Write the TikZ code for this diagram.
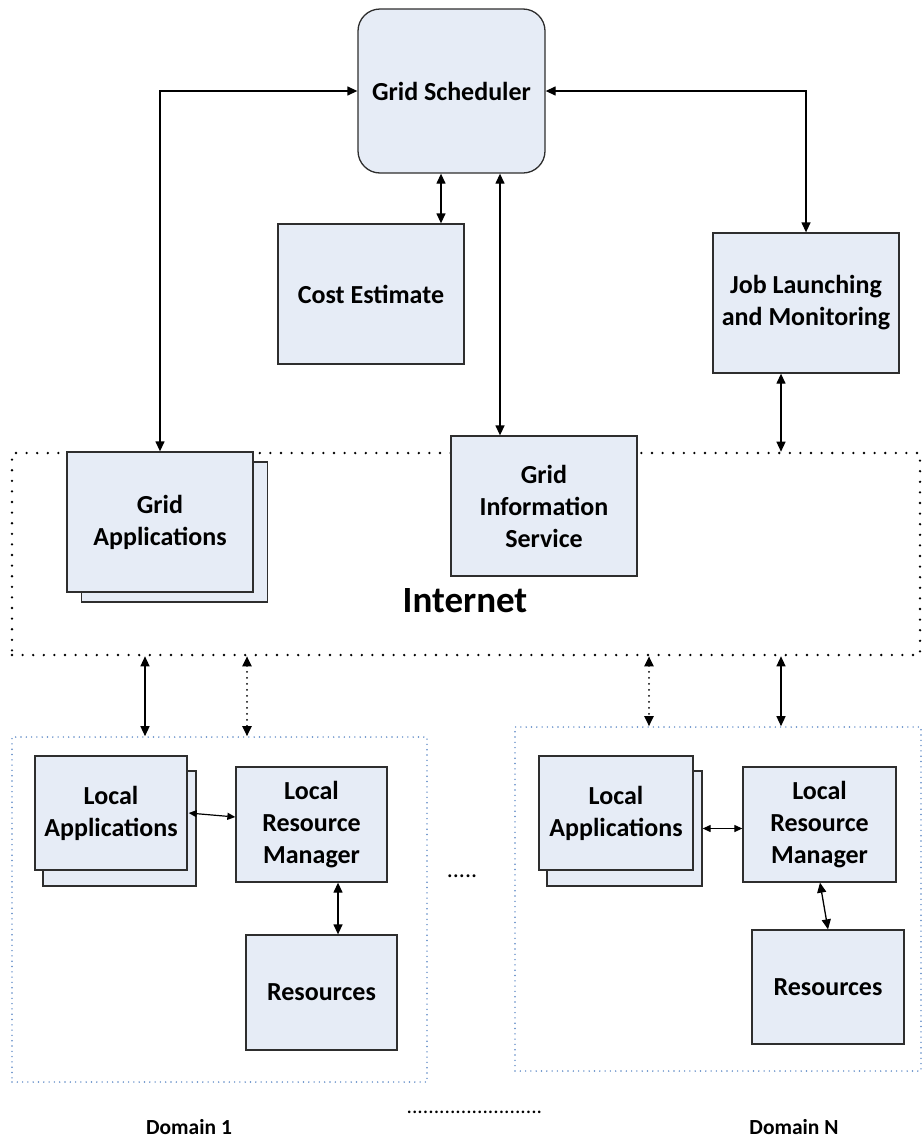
\documentclass[tikz,border=0pt]{standalone}
\usepackage{fontspec}
\setmainfont{Carlito}
\usetikzlibrary{arrows.meta,calc}
\definecolor{boxfill}{HTML}{E6ECF6}
\definecolor{boxline}{HTML}{2E2E2E}
\definecolor{domblue}{HTML}{5B87C5}
\begin{document}
\begin{tikzpicture}[x=1pt,y=-1pt,
  box/.style={draw=boxline, line width=1.3pt, fill=boxfill, align=center,
    inner sep=0pt, font=\fontsize{26}{32}\selectfont\bfseries},
  bigbox/.style={box, minimum width=186pt, minimum height=140pt},
  smallbox/.style={box, minimum width=152pt, minimum height=115pt},
  inetbox/.style={draw=black, line width=2.6pt, line cap=round,
    dash pattern=on 0pt off 10.6pt, minimum width=908pt, minimum height=202pt, inner sep=0pt},
  domainbox/.style={draw=domblue, line width=1.6pt, line cap=round,
    dash pattern=on 0pt off 5.3pt, inner sep=0pt},
  arr/.style={line width=1.3pt,
    {Triangle[length=10pt,width=9pt]}-{Triangle[length=10pt,width=9pt]}},
  dotarr/.style={arr, line width=2pt, line cap=round, dash pattern=on 0pt off 6pt},
  sarr/.style={line width=1.2pt,
    {Triangle[length=8pt,width=7pt]}-{Triangle[length=8pt,width=7pt]}},
  label/.style={inner sep=0pt, font=\fontsize{21.5}{26}\selectfont\bfseries}]

\useasboundingbox (0,0) rectangle (923,1138);

% Internet region and the two domains
\node[inetbox] (inet) at (466,554) {};
\node[inner sep=0pt, font=\fontsize{37}{44}\selectfont\bfseries] (inetlabel) at (465,601) {Internet};
\node[domainbox, minimum width=415pt, minimum height=345pt] (dom1) at (219.5,909.5) {};
\node[domainbox, minimum width=406pt, minimum height=344pt] (domN) at (718,899) {};

% Upper components
\node[box, minimum width=187pt, minimum height=164pt, rounded corners=22pt] (sched) at (451.5,91) {Grid Scheduler};
\node[bigbox] (cost) at (371,294) {Cost Estimate};
\node[bigbox] (job) at (806,303) {Job Launching\\and Monitoring};
\node[bigbox] (gis) at (544,506) {Grid\\Information\\Service};
\node[bigbox] (gab) at (174.5,532) {};
\node[bigbox] (ga) at (160,522) {Grid\\Applications};

% Domain 1
\node[box, minimum width=153pt, minimum height=115pt] (la1b) at (119.5,828.5) {};
\node[box, minimum width=152pt, minimum height=114pt] (la1) at (111,813) {Local\\Applications};
\node[box, minimum width=151pt, minimum height=115pt] (lrm1) at (311.5,824.5) {Local\\Resource\\Manager};
\node[box, minimum width=151pt, minimum height=115pt] (res1) at (321.5,992.5) {Resources};

% Domain N
\node[box, minimum width=155pt, minimum height=115pt] (la2b) at (624.5,828.5) {};
\node[box, minimum width=154pt, minimum height=114pt] (la2) at (616,813) {Local\\Applications};
\node[box, minimum width=153pt, minimum height=115pt] (lrm2) at (819.5,824.5) {Local\\Resource\\Manager};
\node[box, minimum width=152pt, minimum height=114pt] (res2) at (828,987) {Resources};

% Labels below and between the domains
\node[inner sep=0pt, font=\fontsize{24}{28}\selectfont] (gap) at (462,876) {.....};
\node[label] (d1) at (189,1127) {Domain 1};
\node[label] (dN) at (794,1127) {Domain N};
\node[inner sep=0pt, font=\fontsize{21.5}{26}\selectfont] (ddots) at (474.5,1112) {.........................};

% Connector columns
\coordinate (cx) at (441,0);
\coordinate (gx) at (500,0);
\coordinate (jx) at (781,0);
\coordinate (a1) at (145,0);
\coordinate (b1) at (247,0);
\coordinate (a2) at (649,0);
\coordinate (rx) at (338,0);

% Scheduler connectors
\draw[arr] (sched.west) -| (ga.north);
\draw[arr] (sched.east) -| (job.north);
\draw[arr] (sched.south -| cx) -- (cost.north -| cx);
\draw[arr] (sched.south -| gx) -- (gis.north -| gx);
\draw[arr] (job.south -| jx) -- (inet.north -| jx);

% Internet to domains
\draw[arr] (inet.south -| a1) -- (dom1.north -| a1);
\draw[dotarr] (inet.south -| b1) -- (dom1.north -| b1);
\draw[dotarr] (inet.south -| a2) -- (domN.north -| a2);
\draw[arr] (inet.south -| jx) -- (domN.north -| jx);

% Inside the domains
\draw[sarr] ($(la1.east)+(1,0)$) -- ($(lrm1.west)+(0,-7.5)$);
\draw[arr] (lrm1.south -| rx) -- (res1.north -| rx);
\draw[sarr] (la2b.east) -- (lrm2.west |- la2b.east);
\draw[arr] ($(lrm2.south)+(0.5,0)$) -- (res2.north);
\end{tikzpicture}
\end{document}
